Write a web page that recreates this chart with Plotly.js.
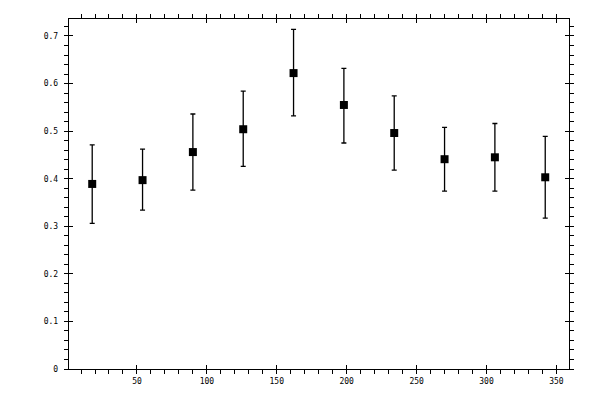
<!DOCTYPE html>
<html>
<head>
<meta charset="utf-8">
<script src="https://cdn.plot.ly/plotly-3.0.1.min.js"></script>
<style>
  html, body { margin: 0; padding: 0; background: #fff; }
  #chart { width: 600px; height: 400px; }
</style>
</head>
<body>
<div id="chart"></div>
<script>
// angle positions and measured values
let xVals = [18, 54, 90, 126, 162, 198, 234, 270, 306, 342];
let yVals = [0.389, 0.397, 0.456, 0.504, 0.622, 0.555, 0.496, 0.441, 0.445, 0.403];
let errPlus = [0.082, 0.065, 0.080, 0.080, 0.092, 0.077, 0.078, 0.067, 0.071, 0.086];
let errMinus = [0.083, 0.063, 0.080, 0.078, 0.090, 0.080, 0.078, 0.067, 0.071, 0.086];

let xRange = [1.4, 359];
let yRange = [0, 0.7357];
let tickFont = {family: 'DejaVu Sans Mono', size: 8, color: '#000'};

let trace = {
  x: xVals,
  y: yVals,
  type: 'scatter',
  mode: 'markers',
  marker: {symbol: 'square', size: 8, color: '#000'},
  error_y: {
    type: 'data',
    symmetric: false,
    array: errPlus,
    arrayminus: errMinus,
    color: '#000',
    thickness: 1.3,
    width: 2.5
  },
  showlegend: false,
  hoverinfo: 'none'
};

// empty trace so the overlay axes get drawn (inward half of the major ticks)
let overlay = {
  x: [], y: [], type: 'scatter', mode: 'markers',
  xaxis: 'x2', yaxis: 'y2', showlegend: false, hoverinfo: 'none'
};

let layout = {
  width: 600,
  height: 400,
  margin: {l: 69, r: 31, t: 19, b: 31},
  paper_bgcolor: '#fff',
  plot_bgcolor: '#fff',
  showlegend: false,
  xaxis: {
    range: xRange,
    tickmode: 'linear', tick0: 0, dtick: 50,
    ticks: 'outside', ticklen: 4, tickwidth: 1, tickcolor: '#000',
    minor: {dtick: 10, ticks: 'outside', ticklen: 4, tickwidth: 1, tickcolor: '#000', showgrid: false},
    showline: true, linecolor: '#000', linewidth: 1.3, mirror: 'ticks',
    showgrid: false, zeroline: false,
    tickfont: tickFont
  },
  yaxis: {
    range: yRange,
    tickmode: 'linear', tick0: 0, dtick: 0.1,
    ticks: 'outside', ticklen: 4, tickwidth: 1, tickcolor: '#000',
    minor: {dtick: 0.02, ticks: 'outside', ticklen: 4, tickwidth: 1, tickcolor: '#000', showgrid: false},
    showline: true, linecolor: '#000', linewidth: 1.3, mirror: 'ticks',
    showgrid: false, zeroline: false,
    tickfont: tickFont,
    ticklabelstandoff: 4
  },
  xaxis2: {
    overlaying: 'x', range: xRange,
    tickmode: 'linear', tick0: 0, dtick: 50,
    ticks: 'inside', ticklen: 4, tickwidth: 1, tickcolor: '#000',
    mirror: 'ticks', showline: false, showticklabels: false,
    showgrid: false, zeroline: false
  },
  yaxis2: {
    overlaying: 'y', range: yRange,
    tickmode: 'linear', tick0: 0, dtick: 0.1,
    ticks: 'inside', ticklen: 4, tickwidth: 1, tickcolor: '#000',
    mirror: 'ticks', showline: false, showticklabels: false,
    showgrid: false, zeroline: false
  }
};

Plotly.newPlot('chart', [trace, overlay], layout, {staticPlot: true});
</script>
</body>
</html>
